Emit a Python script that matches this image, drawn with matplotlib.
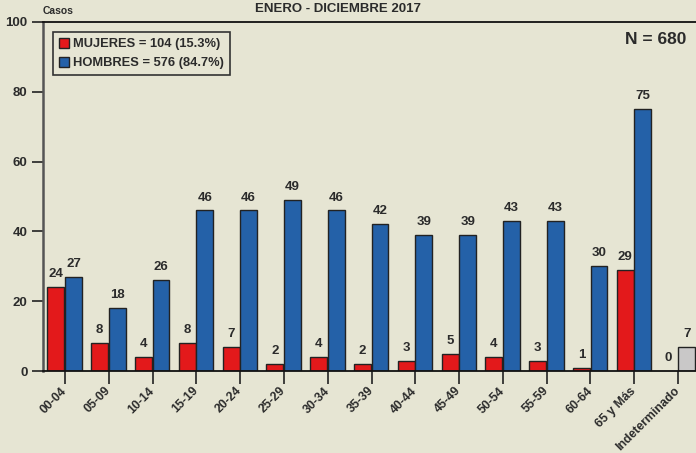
import matplotlib
matplotlib.use("Agg")
import matplotlib.pyplot as plt
import numpy as np
from matplotlib.patches import Patch

plt.rcParams['font.family'] = ['Liberation Sans', 'DejaVu Sans']

categories = ["00-04", "05-09", "10-14", "15-19", "20-24", "25-29", "30-34",
              "35-39", "40-44", "45-49", "50-54", "55-59", "60-64", "65 y Más",
              "Indeterminado"]
mujeres = [24, 8, 4, 8, 7, 2, 4, 2, 3, 5, 4, 3, 1, 29, 0]
hombres = [27, 18, 26, 46, 46, 49, 46, 42, 39, 39, 43, 43, 30, 75, 7]
yticks = [0, 20, 40, 60, 80, 100]

bg = "#E6E5D3"
red = "#E3191B"
blue = "#2461A8"
grey = "#C9C8C8"
txt = "#2B2B2B"

fig = plt.figure(figsize=(6.96, 4.53), dpi=100, facecolor=bg)
ax = fig.add_axes([43/696, 82/453, 657/696, 349/453])
ax.set_facecolor(bg)

x = np.arange(len(categories))
w = 0.385
n = len(categories)
ax.bar(x[:-1] - 0.205, mujeres[:-1], w, color=red, edgecolor="#222222", linewidth=1.0, zorder=3)
ax.bar(x[:-1] + 0.195, hombres[:-1], w, color=blue, edgecolor="#222222", linewidth=1.0, zorder=3)
ax.bar(x[-1:] + 0.195, hombres[-1:], w, color=grey, edgecolor="#222222", linewidth=1.0, zorder=3)

for i in range(n):
    ax.annotate(str(mujeres[i]), (x[i] - 0.205 - (0.03 if i == n - 1 else 0), mujeres[i]),
                xytext=(0, 5), textcoords="offset points", ha="center", va="bottom",
                fontsize=9.5, fontweight="bold", color=txt)
    ax.annotate(str(hombres[i]), (x[i] + 0.195, hombres[i]),
                xytext=(0, 5), textcoords="offset points", ha="center", va="bottom",
                fontsize=9.5, fontweight="bold", color=txt)

ax.set_xlim(-0.5, n - 0.5)
ax.set_ylim(0, 100)
ax.set_yticks(yticks)
ax.set_yticklabels([str(v) for v in yticks], fontsize=9.5, fontweight="bold", color=txt)
ax.set_xticks(x)
ax.set_xticklabels(categories, rotation=45, ha="right", va="center", rotation_mode="anchor",
                   fontsize=8.8, fontweight="bold", color=txt)
ax.tick_params(axis="y", length=8, width=1.2, color="#222222", pad=3)
ax.tick_params(axis="x", length=9, width=1.2, color="#222222", pad=4)

ax.spines["right"].set_visible(False)
ax.spines["top"].set_color("#111111")
ax.spines["top"].set_linewidth(1.3)
ax.spines["left"].set_color("#555555")
ax.spines["left"].set_linewidth(1.8)
ax.spines["bottom"].set_color("#111111")
ax.spines["bottom"].set_linewidth(1.3)
ax.spines["bottom"].set_zorder(4)

fig.text(338/696, 1 - 9/453, "ENERO - DICIEMBRE 2017", ha="center", va="center",
         fontsize=9.5, fontweight="bold", color=txt)
fig.text(43/696, 1 - 11/453, "Casos", ha="left", va="center",
         fontsize=7.5, fontweight="bold", color=txt)
fig.text(686/696, 1 - 40/453, "N = 680", ha="right", va="center",
         fontsize=12.5, fontweight="bold", color=txt)

handles = [Patch(facecolor=red, edgecolor="#222222", label="MUJERES = 104 (15.3%)"),
           Patch(facecolor=blue, edgecolor="#222222", label="HOMBRES = 576 (84.7%)")]
leg = ax.legend(handles=handles, loc="upper left", bbox_to_anchor=(10/657, 1 - 10/349),
                frameon=True, fancybox=False, prop={"weight": "bold", "size": 9.3},
                handlelength=0.8, handleheight=0.8, handletextpad=0.3,
                borderpad=0.45, labelspacing=0.5, borderaxespad=0)
leg.get_frame().set_facecolor(bg)
leg.get_frame().set_edgecolor("#333333")
leg.get_frame().set_linewidth(1.2)
leg.get_frame().set_alpha(1)
for t in leg.get_texts():
    t.set_color(txt)

fig.savefig("out.png", dpi=100, facecolor=bg)
